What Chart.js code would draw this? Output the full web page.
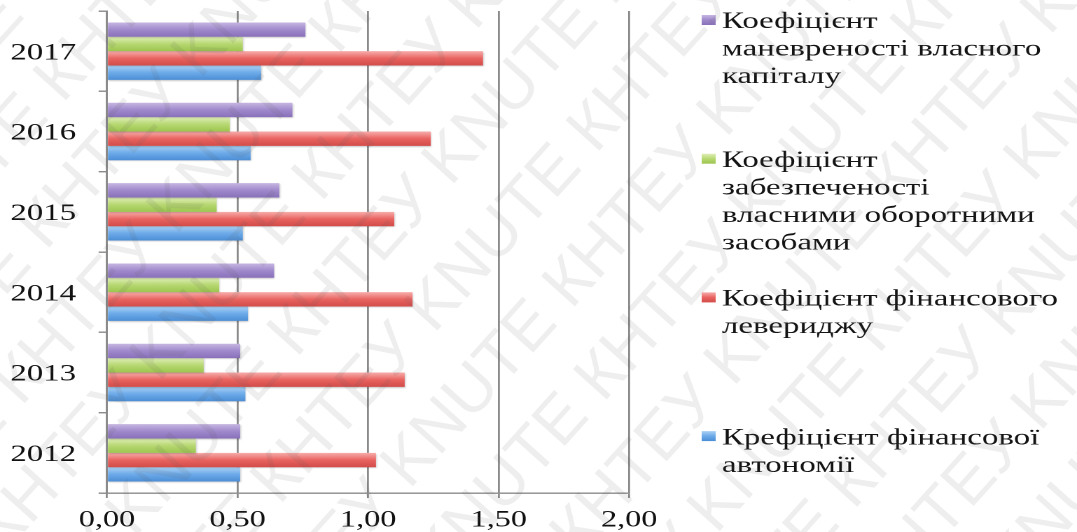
<!DOCTYPE html>
<html lang="uk">
<head>
<meta charset="utf-8">
<title>Коефіцієнти фінансової стійкості, 2012–2017</title>
<script src="https://cdn.jsdelivr.net/npm/chart.js@4.4.1/dist/chart.umd.min.js"></script>
<style>
  html, body { margin: 0; padding: 0; background: #fff; overflow: hidden; }
  /* the chart is laid out on a narrower canvas and widened to the page */
  #stage { width: 769px; height: 532px; transform: scaleX(1.40052); transform-origin: 0 0; }
</style>
</head>
<body>
<div id="stage"><canvas id="chart"></canvas></div>
<script>
// ---- data -------------------------------------------------------------
const years = ['2012', '2013', '2014', '2015', '2016', '2017'];
const autonomy        = [0.51, 0.53, 0.54, 0.52, 0.55, 0.59];
const leverage        = [1.03, 1.14, 1.17, 1.10, 1.24, 1.44];
const workingCapital  = [0.34, 0.37, 0.43, 0.42, 0.47, 0.52];
const maneuverability = [0.51, 0.51, 0.64, 0.66, 0.71, 0.76];
const xTicks = [0, 0.5, 1, 1.5, 2];

// legend captions, one entry per line
const maneuverabilityName = ['Коефіцієнт', 'маневреності власного', 'капіталу'];
const workingCapitalName  = ['Коефіцієнт', 'забезпеченості', 'власними оборотними', 'засобами'];
const leverageName        = ['Коефіцієнт фінансового', 'левериджу'];
const autonomyName        = ['Крефіцієнт фінансової', 'автономії'];

// ---- styling ------------------------------------------------------------
const STRETCH = 1.40052;
const SERIF = '"Liberation Serif", "Times New Roman", serif';
const AXIS_GREY = '#8a8a8a';
const shades = {
  purple: ['#c6b6e2', '#a089cc', '#8a71bb'],
  green:  ['#dfefb8', '#b7d872', '#9dc64f'],
  red:    ['#f7aeac', '#e96461', '#d24c4a'],
  blue:   ['#abd1f4', '#6caae9', '#4c8ed6']
};

// top-to-bottom order of the bars inside each year group and of the legend
const series = [
  { name: maneuverabilityName, values: maneuverability, shade: shades.purple },
  { name: workingCapitalName,  values: workingCapital,  shade: shades.green },
  { name: leverageName,        values: leverage,        shade: shades.red },
  { name: autonomyName,        values: autonomy,        shade: shades.blue }
];

const fmt = v => Number(v).toFixed(2).replace('.', ',');

// glossy vertical gradient for every bar, plus a soft drop shadow
const barShading = {
  id: 'barShading',
  beforeDatasetsDraw(chart) {
    const ctx = chart.ctx;
    chart.data.datasets.forEach((ds, i) => {
      const c = series[i].shade;
      chart.getDatasetMeta(i).data.forEach(bar => {
        const top = bar.y - bar.height / 2;
        const bottom = bar.y + bar.height / 2;
        const g = ctx.createLinearGradient(0, top, 0, bottom);
        g.addColorStop(0, c[0]);
        g.addColorStop(0.5, c[1]);
        g.addColorStop(1, c[2]);
        // options are shared between bars, so give each bar its own copy
        bar.options = Object.assign({}, bar.options, { backgroundColor: g });
      });
    });
  },
  beforeDatasetDraw(chart) {
    const ctx = chart.ctx;
    ctx.save();
    ctx.shadowColor = 'rgba(0,0,0,0.22)';
    ctx.shadowBlur = 3;
    ctx.shadowOffsetX = 1;
    ctx.shadowOffsetY = 2;
  },
  afterDatasetDraw(chart) {
    chart.ctx.restore();
  }
};

// legend column on the right with wrapped captions
const sideLegend = {
  id: 'sideLegend',
  afterDraw(chart, args, o) {
    const ctx = chart.ctx;
    ctx.save();
    ctx.font = `${o.size}px ${SERIF}`;
    ctx.textBaseline = 'middle';
    ctx.textAlign = 'left';
    series.forEach((s, i) => {
      const y0 = o.top + i * o.pitch;
      const bx = o.boxX, by = y0 - o.box / 2 + o.boxShift;
      const g = ctx.createLinearGradient(0, by, 0, by + o.box);
      g.addColorStop(0, s.shade[0]);
      g.addColorStop(0.5, s.shade[1]);
      g.addColorStop(1, s.shade[2]);
      ctx.fillStyle = g;
      ctx.fillRect(bx, by, o.box, o.box);
      ctx.fillStyle = '#141414';
      s.name.forEach((line, j) => ctx.fillText(line, o.textX, y0 + j * o.lineHeight));
    });
    ctx.restore();
  }
};

// diagonal KNUTE / КНТЕУ watermark over the whole picture
const watermark = {
  id: 'watermark',
  afterDraw(chart, args, o) {
    const ctx = chart.ctx;
    const W = chart.width * STRETCH, H = chart.height;
    const diag = Math.hypot(W, H);
    ctx.save();
    ctx.scale(1 / STRETCH, 1);
    ctx.translate(0, H);
    ctx.rotate(-o.angle * Math.PI / 180);
    ctx.font = `${o.size}px "Liberation Sans", Arial, sans-serif`;
    ctx.fillStyle = o.color;
    ctx.textBaseline = 'middle';
    const rows = Math.ceil(diag / o.gap) + 2;
    for (let r = -rows; r <= rows; r++) {
      const text = (Math.abs(r) % 2 ? 'КНТЕУ KNUTE ' : 'KNUTE КНТЕУ ').repeat(10);
      ctx.fillText(text, -diag + ((r * o.shift) % 400), r * o.gap);
    }
    ctx.restore();
  }
};

new Chart(document.getElementById('chart'), {
  type: 'bar',
  data: {
    labels: years.slice().reverse(),
    datasets: series.map(s => ({
      label: s.name.join(' '),
      data: s.values.slice().reverse(),
      backgroundColor: s.shade[1],
      borderWidth: 0,
      categoryPercentage: 0.715,
      barPercentage: 1.0
    }))
  },
  options: {
    indexAxis: 'y',
    responsive: true,
    maintainAspectRatio: false,
    animation: false,
    devicePixelRatio: 2,
    layout: { padding: { top: 11, left: 6.4, right: 319.7, bottom: 0 } },
    scales: {
      x: {
        min: 0,
        max: 2,
        afterBuildTicks: scale => { scale.ticks = xTicks.map(v => ({ value: v })); },
        afterFit: scale => { scale.height = 39; scale.paddingLeft = 0; scale.paddingRight = 0; },
        ticks: {
          callback: v => fmt(v),
          color: '#111',
          font: { family: SERIF, size: 23, lineHeight: 1 },
          padding: 11,
          maxRotation: 0
        },
        grid: { color: AXIS_GREY, lineWidth: 1.4, drawTicks: true, tickLength: 5 },
        border: { display: true, color: AXIS_GREY, width: 1.4 }
      },
      y: {
        afterFit: scale => { scale.width = 70; scale.paddingTop = 0; scale.paddingBottom = 0; },
        ticks: {
          color: '#111',
          font: { family: SERIF, size: 23.5 },
          padding: 16,
          labelOffset: 2
        },
        grid: { display: true, drawOnChartArea: false, drawTicks: true, tickLength: 6,
                offset: true, color: AXIS_GREY, lineWidth: 1.4 },
        border: { display: true, color: AXIS_GREY, width: 1.4 }
      }
    },
    plugins: {
      legend: { display: false },
      tooltip: { enabled: false },
      sideLegend: { top: 22, pitch: 138.7, lineHeight: 27.5, size: 23.5,
                    textX: 515.5, boxX: 501, box: 10, boxShift: -2 },
      watermark: { angle: 48, size: 66, gap: 86, shift: 110, color: 'rgba(90,90,90,0.10)' }
    }
  },
  plugins: [barShading, sideLegend, watermark]
});
</script>
</body>
</html>
